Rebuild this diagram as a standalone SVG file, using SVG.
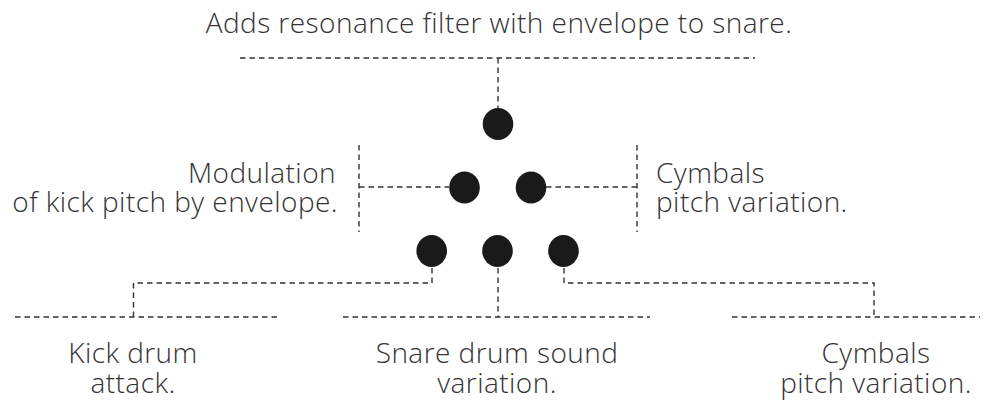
<svg xmlns="http://www.w3.org/2000/svg" width="983" height="401" viewBox="0 0 983 401">
<style>
.c{fill:none;stroke:#333;stroke-width:1.4;stroke-dasharray:5.5 4}
.d{fill:#1a1a1a}
text{font-family:"Open Sans","Noto Sans","Liberation Sans",sans-serif;font-size:28px;font-weight:300;letter-spacing:0.45px;fill:#333}
.m{text-anchor:middle}
.e{text-anchor:end}
</style>
<rect width="983" height="401" fill="#fff"/>
<g id="connectors">
<path class="c" d="M240 58H755"/>
<path class="c" d="M498 58V108"/>
<path class="c" d="M359 145V232"/>
<path class="c" d="M359 187H449"/>
<path class="c" d="M637 145V232"/>
<path class="c" d="M546 187H637"/>
<path class="c" d="M15 317H277"/>
<path class="c" d="M432 268V283H133.5V317"/>
<path class="c" d="M343 317H650"/>
<path class="c" d="M498 268V317"/>
<path class="c" d="M732 317H980"/>
<path class="c" d="M564 268V283H874V317"/>
</g>
<g id="dot-top"><ellipse class="d" cx="498" cy="124" rx="15.3" ry="16"/></g>
<g id="dot-mid-left"><ellipse class="d" cx="464.5" cy="187.5" rx="15.3" ry="16"/></g>
<g id="dot-mid-right"><ellipse class="d" cx="531" cy="187.5" rx="15.3" ry="16"/></g>
<g id="dot-bottom-left"><ellipse class="d" cx="431.7" cy="251" rx="15.3" ry="16"/></g>
<g id="dot-bottom-mid"><ellipse class="d" cx="497.5" cy="251" rx="15.3" ry="16"/></g>
<g id="dot-bottom-right"><ellipse class="d" cx="563.5" cy="251" rx="15.3" ry="16"/></g>
<g id="label-top"><text class="m" x="499" y="33">Adds resonance filter with envelope to snare.</text></g>
<g id="label-mid-left"><text class="e" x="336" y="183">Modulation</text><text class="e" x="338" y="212">of kick pitch by envelope.</text></g>
<g id="label-mid-right"><text x="656" y="183">Cymbals</text><text x="656" y="212">pitch variation.</text></g>
<g id="label-kick"><text class="m" x="133" y="363">Kick drum</text><text class="m" x="133" y="393">attack.</text></g>
<g id="label-snare"><text class="m" x="497" y="363">Snare drum sound</text><text class="m" x="497" y="393">variation.</text></g>
<g id="label-cymbals"><text class="m" x="876" y="363">Cymbals</text><text class="m" x="876" y="393">pitch variation.</text></g>
</svg>
